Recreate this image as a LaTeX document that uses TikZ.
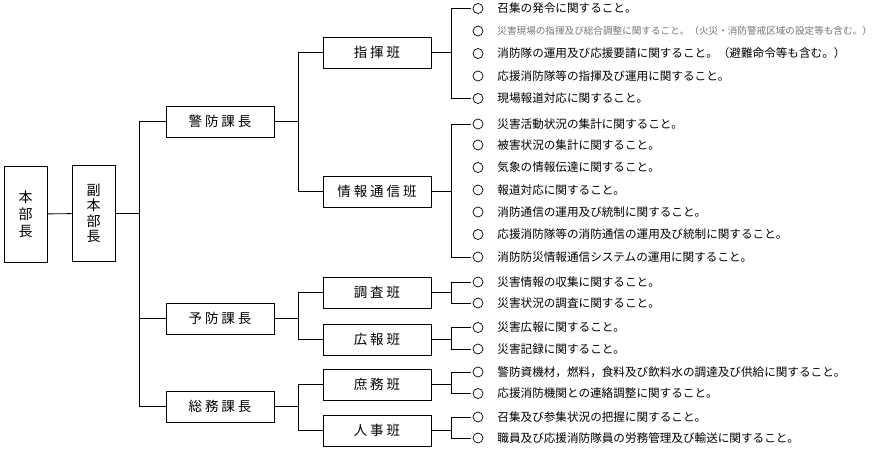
\documentclass[tikz,border=0pt]{standalone}
\usepackage{fontspec}
\setmainfont{Noto Sans CJK JP}
\newfontfamily\boxfont[LetterSpace=22]{Noto Sans CJK JP}
\usepackage{tikz}

\begin{document}
\begin{tikzpicture}[x=1pt, y=-1pt, line width=0.9pt,
    bu/.style={draw, minimum width=108pt, minimum height=31pt, inner sep=0pt, font=\boxfont\fontsize{13.5}{13.5}\selectfont},
    ta/.style={draw, minimum width=43pt, minimum height=96pt, inner sep=0pt, align=center, font=\fontsize{14}{17}\selectfont},
    maru/.style={draw, circle, minimum size=10pt, inner sep=0pt, line width=0.7pt, outer sep=2.5pt},
    kou/.style={anchor=west, inner sep=0pt, font=\fontsize{11.6}{12}\selectfont}]
    \useasboundingbox (0,0) rectangle (887,450);

    \node[ta] (hon) at (25.5,214) {本\\部\\長};
    \node[ta, font=\fontsize{14}{15.5}\selectfont] (fuku) at (93.5,213.5) {副\\本\\部\\長};

    \node[bu] (keibo) at (220,121.5) {警防課長};
    \node[bu] (yobo) at (220,318.5) {予防課長};
    \node[bu] (somu) at (220,406.5) {総務課長};

    \node[bu] (shiki) at (377,52.5) {指揮班};
    \node[bu] (joho) at (377,191.5) {情報通信班};
    \node[bu] (chosa) at (377,292.5) {調査班};
    \node[bu] (koho) at (377,339.5) {広報班};
    \node[bu] (shomu) at (377,384.5) {庶務班};
    \node[bu] (jinji) at (377,430.5) {人事班};

    \node[maru] (m1) at (478,8.5) {};
    \node[maru] (m2) at (478,31) {};
    \node[maru] (m3) at (478,53.5) {};
    \node[maru] (m4) at (478,76) {};
    \node[maru] (m5) at (478,98.5) {};
    \node[maru] (m6) at (478,124) {};
    \node[maru] (m7) at (478,145) {};
    \node[maru] (m8) at (478,167.5) {};
    \node[maru] (m9) at (478,190) {};
    \node[maru] (m10) at (478,212) {};
    \node[maru] (m11) at (478,234.5) {};
    \node[maru] (m12) at (478,257) {};
    \node[maru] (m13) at (478,282) {};
    \node[maru] (m14) at (478,303) {};
    \node[maru] (m15) at (478,327.5) {};
    \node[maru] (m16) at (478,349) {};
    \node[maru] (m17) at (478,372) {};
    \node[maru] (m18) at (478,393.5) {};
    \node[maru] (m19) at (478,417) {};
    \node[maru] (m20) at (478,438) {};

    \node[kou] (k1) at (497,8.5) {召集の発令に関すること。};
    \node[kou, font=\fontsize{9.6}{10}\selectfont, text=black!55] (k2) at (497,31) {災害現場の指揮及び総合調整に関すること。（火災・消防警戒区域の設定等も含む。）};
    \node[kou] (k3) at (497,53.5) {消防隊の運用及び応援要請に関すること。（避難命令等も含む。）};
    \node[kou] (k4) at (497,76) {応援消防隊等の指揮及び運用に関すること。};
    \node[kou] (k5) at (497,98.5) {現場報道対応に関すること。};
    \node[kou] (k6) at (497,124) {災害活動状況の集計に関すること。};
    \node[kou] (k7) at (497,145) {被害状況の集計に関すること。};
    \node[kou] (k8) at (497,167.5) {気象の情報伝達に関すること。};
    \node[kou] (k9) at (497,190) {報道対応に関すること。};
    \node[kou] (k10) at (497,212) {消防通信の運用及び統制に関すること。};
    \node[kou] (k11) at (497,234.5) {応援消防隊等の消防通信の運用及び統制に関すること。};
    \node[kou] (k12) at (497,257) {消防防災情報通信システムの運用に関すること。};
    \node[kou] (k13) at (497,282) {災害情報の収集に関すること。};
    \node[kou] (k14) at (497,303) {災害状況の調査に関すること。};
    \node[kou] (k15) at (497,327.5) {災害広報に関すること。};
    \node[kou] (k16) at (497,349) {災害記録に関すること。};
    \node[kou] (k17) at (497,372) {警防資機材，燃料，食料及び飲料水の調達及び供給に関すること。};
    \node[kou] (k18) at (497,393.5) {応援消防機関との連絡調整に関すること。};
    \node[kou] (k19) at (497,417) {召集及び参集状況の把握に関すること。};
    \node[kou] (k20) at (497,438) {職員及び応援消防隊員の労務管理及び輸送に関すること。};

    \coordinate (b1) at ([xshift=24pt]fuku.east);
    \coordinate (b2) at ([xshift=24pt]keibo.east);
    \coordinate (b3) at ([xshift=24pt]yobo.east);
    \coordinate (b4) at ([xshift=24pt]somu.east);
    \coordinate (r1) at ([xshift=20pt]shiki.east);
    \coordinate (r2) at ([xshift=20pt]joho.east);
    \coordinate (r3) at ([xshift=20pt]chosa.east);
    \coordinate (r4) at ([xshift=20pt]koho.east);
    \coordinate (r5) at ([xshift=20pt]shomu.east);
    \coordinate (r6) at ([xshift=20pt]jinji.east);

    \draw (hon) -- (fuku);
    \draw (fuku.east) -- (b1);
    \draw (keibo.west) -| (b1);
    \draw (somu.west) -| (b1);
    \draw (yobo.west) -- (yobo.west -| b1);

    \draw (keibo.east) -- (b2);
    \draw (shiki.west) -| (b2);
    \draw (joho.west) -| (b2);
    \draw (yobo.east) -- (b3);
    \draw (chosa.west) -| (b3);
    \draw (koho.west) -| (b3);
    \draw (somu.east) -- (b4);
    \draw (shomu.west) -| (b4);
    \draw (jinji.west) -| (b4);

    \draw (shiki.east) -- (r1);
    \draw (m1.west) -| (r1);
    \draw (m5.west) -| (r1);
    \draw (joho.east) -- (r2);
    \draw (m6.west) -| (r2);
    \draw (m12.west) -| (r2);
    \draw (chosa.east) -- (r3);
    \draw (m13.west) -| (r3);
    \draw (m14.west) -| (r3);
    \draw (koho.east) -- (r4);
    \draw (m15.west) -| (r4);
    \draw (m16.west) -| (r4);
    \draw (shomu.east) -- (r5);
    \draw (m17.west) -| (r5);
    \draw (m18.west) -| (r5);
    \draw (jinji.east) -- (r6);
    \draw (m19.west) -| (r6);
    \draw (m20.west) -| (r6);
\end{tikzpicture}
\end{document}
